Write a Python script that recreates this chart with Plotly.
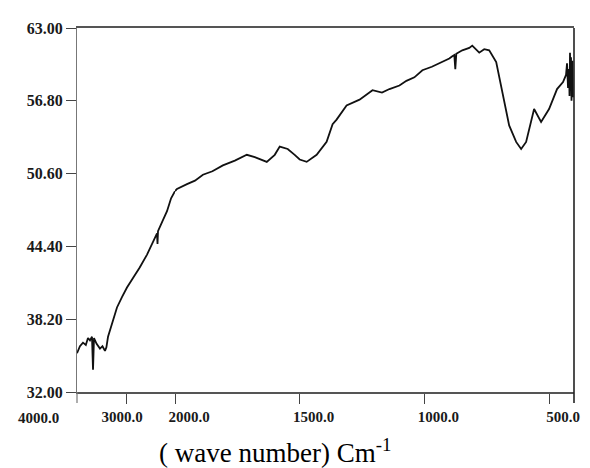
import plotly.graph_objects as go

# IR spectrum: wavenumber (cm-1) vs transmittance
wavenumber = [4000, 3940, 3878, 3820, 3776, 3735, 3694, 3673, 3653, 3600, 3531, 3480,
              3429, 3400, 3367, 3280, 3184, 3080, 2980, 2857, 2720, 2571, 2480, 2408,
              2367, 2357, 2347, 2260, 2163, 2080, 2000, 1992, 1952, 1920, 1888, 1850,
              1808, 1760, 1712, 1680, 1632, 1600, 1580, 1548, 1520, 1500, 1472, 1432,
              1392, 1368, 1352, 1312, 1260, 1208, 1170, 1140, 1100, 1072, 1040, 1008,
              970, 940, 900, 888, 880, 876, 872, 848, 820, 808, 780, 760, 740, 712,
              688, 660, 632, 612, 592, 560, 532, 500, 468, 444, 432, 428, 424, 420,
              418, 416, 414, 412, 410, 408, 406, 404]
transmittance = [35.3, 35.9, 36.2, 36.0, 36.6, 36.4, 36.7, 33.9, 36.6, 36.1, 35.7, 35.9,
                 35.5, 35.8, 36.7, 38.0, 39.2, 40.1, 40.9, 41.7, 42.6, 43.7, 44.5, 45.2,
                 45.5, 44.6, 45.7, 46.5, 47.4, 48.5, 49.1, 49.3, 49.7, 50.0, 50.5, 50.8,
                 51.3, 51.7, 52.2, 52.0, 51.6, 52.2, 52.9, 52.7, 52.2, 51.8, 51.6, 52.2,
                 53.3, 54.8, 55.2, 56.4, 56.9, 57.7, 57.5, 57.8, 58.1, 58.5, 58.8, 59.4,
                 59.7, 60.0, 60.4, 60.6, 60.7, 59.5, 60.8, 61.1, 61.3, 61.5, 60.9, 61.2,
                 61.1, 60.1, 57.5, 54.7, 53.3, 52.7, 53.3, 56.1, 55.0, 56.1, 57.8, 58.4,
                 59.0, 60.0, 57.9, 59.5, 57.2, 60.9, 58.0, 60.5, 56.8, 58.4, 60.2, 57.1]

y_ticks = [32.0, 38.2, 44.4, 50.6, 56.8, 63.0]
x1_ticks = [3000]
x2_ticks = [2000, 1500, 1000, 500]

x_break = 2000
hi_x = [w for w in wavenumber if w >= x_break]
hi_y = [t for w, t in zip(wavenumber, transmittance) if w >= x_break]
lo_x = [w for w in wavenumber if w <= x_break]
lo_y = [t for w, t in zip(wavenumber, transmittance) if w <= x_break]

line_style = dict(color="#111111", width=1.8)
fig = go.Figure()
fig.add_trace(go.Scatter(x=hi_x, y=hi_y, mode="lines", line=line_style,
                         xaxis="x", yaxis="y", showlegend=False))
fig.add_trace(go.Scatter(x=lo_x, y=lo_y, mode="lines", line=line_style,
                         xaxis="x2", yaxis="y", showlegend=False))

split = 98 / 497
tickfont = dict(family="Liberation Serif", size=16, color="#1a1a1a", weight="bold")
xtickfont = dict(family="Liberation Serif", size=15, color="#1a1a1a", weight="bold")
common_x = dict(showgrid=False, zeroline=False, showline=True, linecolor="#555555",
                linewidth=1.5, mirror=True, ticks="outside", ticklen=10,
                tickcolor="#444444", tickwidth=1.3, tickfont=xtickfont, anchor="y")

fig.update_layout(
    width=590, height=468,
    margin=dict(l=69, r=24, t=17, b=84),
    plot_bgcolor="white", paper_bgcolor="white",
    xaxis=dict(domain=[0, split], range=[4000, 2000], tickvals=x1_ticks,
               ticktext=[f"{v:.1f}" for v in x1_ticks], ticklabelshift=4, **common_x),
    xaxis2=dict(domain=[split, 1], range=[2000, 400], tickvals=x2_ticks,
                ticktext=[f"{v:.1f}" for v in x2_ticks], ticklabelshift=-14, **common_x),
    yaxis=dict(range=[32, 63], tickvals=y_ticks,
               ticktext=[f"{v:.2f}" for v in y_ticks],
               showgrid=False, zeroline=False, showline=True, linecolor="#777777",
               linewidth=1.2, mirror=False, ticks="outside", ticklen=10,
               tickcolor="#444444", tickwidth=1.3, tickfont=tickfont, anchor="x"),
    shapes=[
        dict(type="line", xref="paper", yref="paper", x0=1, x1=1, y0=-0.03, y1=1,
             line=dict(color="#222222", width=1.6)),
        dict(type="line", xref="paper", yref="paper", x0=0, x1=0, y0=-0.03, y1=0,
             line=dict(color="#777777", width=1.2)),
    ],
    annotations=[
        dict(text="4000.0", x=-0.078, y=-0.071, xref="paper", yref="paper",
             showarrow=False, font=xtickfont, xanchor="center", yanchor="middle"),
        dict(text="( wave number) Cm<sup>-1</sup>", x=0.398, y=-0.163,
             xref="paper", yref="paper", showarrow=False,
             font=dict(family="Liberation Serif", size=27, color="#000000"),
             xanchor="center", yanchor="middle"),
    ],
)

fig.write_html("out.html")
